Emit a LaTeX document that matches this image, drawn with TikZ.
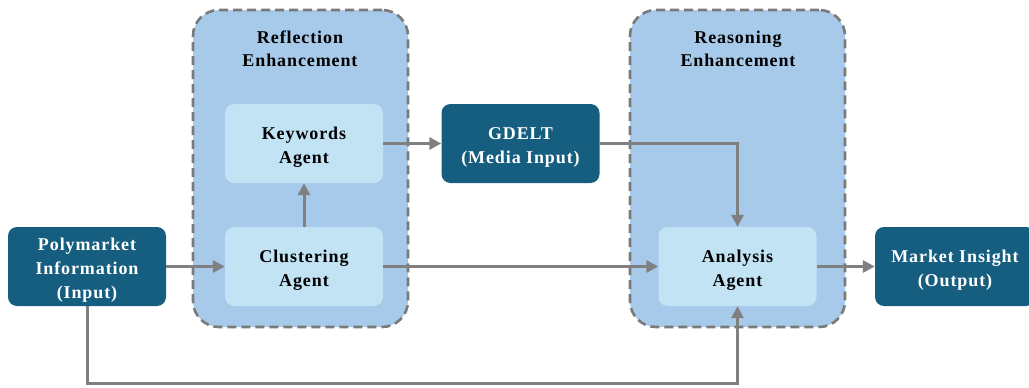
\documentclass[tikz,border=0pt]{standalone}
\usepackage{fontspec}
\setmainfont{Liberation Serif}[LetterSpace=5]
\usetikzlibrary{arrows.meta}
\definecolor{darkbox}{HTML}{165E80}
\definecolor{groupfill}{HTML}{A7C9EA}
\definecolor{agentfill}{HTML}{C2E3F4}
\definecolor{linegray}{HTML}{808080}
\definecolor{dashgray}{HTML}{7A7A7A}
\newcommand{\topstrut}{\rule{0pt}{20pt}}
\tikzset{
  groupbox/.style={draw=dashgray, fill=groupfill, line width=2.6pt, dash pattern=on 9pt off 5pt, rounded corners=26pt, minimum width=215pt, minimum height=317pt, inner sep=0pt},
  agentbox/.style={fill=agentfill, rounded corners=9pt, minimum width=158pt, minimum height=79pt, align=center, font=\fontsize{18}{24}\selectfont\bfseries, text=black, inner sep=0pt},
  darkbox/.style={fill=darkbox, rounded corners=9pt, minimum width=158pt, minimum height=79pt, align=center, font=\fontsize{18}{24}\selectfont\bfseries, text=white, inner sep=0pt},
  grouptitle/.style={align=center, font=\fontsize{18}{23}\selectfont\bfseries, text=black},
  conn/.style={draw=linegray, line width=3pt, -{Triangle[length=12pt,width=12pt]}},
}
\begin{document}
\begin{tikzpicture}[x=1pt,y=-1pt]
\useasboundingbox (0,0) rectangle (1029,388);
% groups
\node[groupbox] (grpA) at (300.5,168.5) {};
\node[groupbox] (grpB) at (737.5,168.5) {};
\node[grouptitle] (titleA) at (300,49) {Reflection\\Enhancement};
\node[grouptitle] (titleB) at (738,49) {Reasoning\\Enhancement};
% nodes
\node[darkbox] (poly) at (87,266.5) {\topstrut Polymarket\\Information\\(Input)};
\node[agentbox] (kw) at (304,143.5) {\topstrut Keywords\\Agent};
\node[agentbox] (cl) at (304,266.5) {\topstrut Clustering\\Agent};
\node[darkbox] (gd) at (520.5,143.5) {\topstrut GDELT\\(Media Input)};
\node[agentbox] (an) at (737.5,266.5) {\topstrut Analysis\\Agent};
\node[darkbox, minimum width=160pt] (mi) at (955,266.5) {\topstrut Market Insight\\(Output)};
% connectors
\draw[conn] (poly.east) -- (cl.west);
\draw[conn] (cl.north) -- (kw.south);
\draw[conn] (kw.east) -- (gd.west);
\draw[conn] (gd.east) -| (an.north);
\draw[conn] (cl.east) -- (an.west);
\draw[conn] (an.east) -- (mi.west);
\coordinate (low) at (87,383);
\draw[conn] (poly.south) |- (low -| an.south) -- (an.south);
\end{tikzpicture}
\end{document}
